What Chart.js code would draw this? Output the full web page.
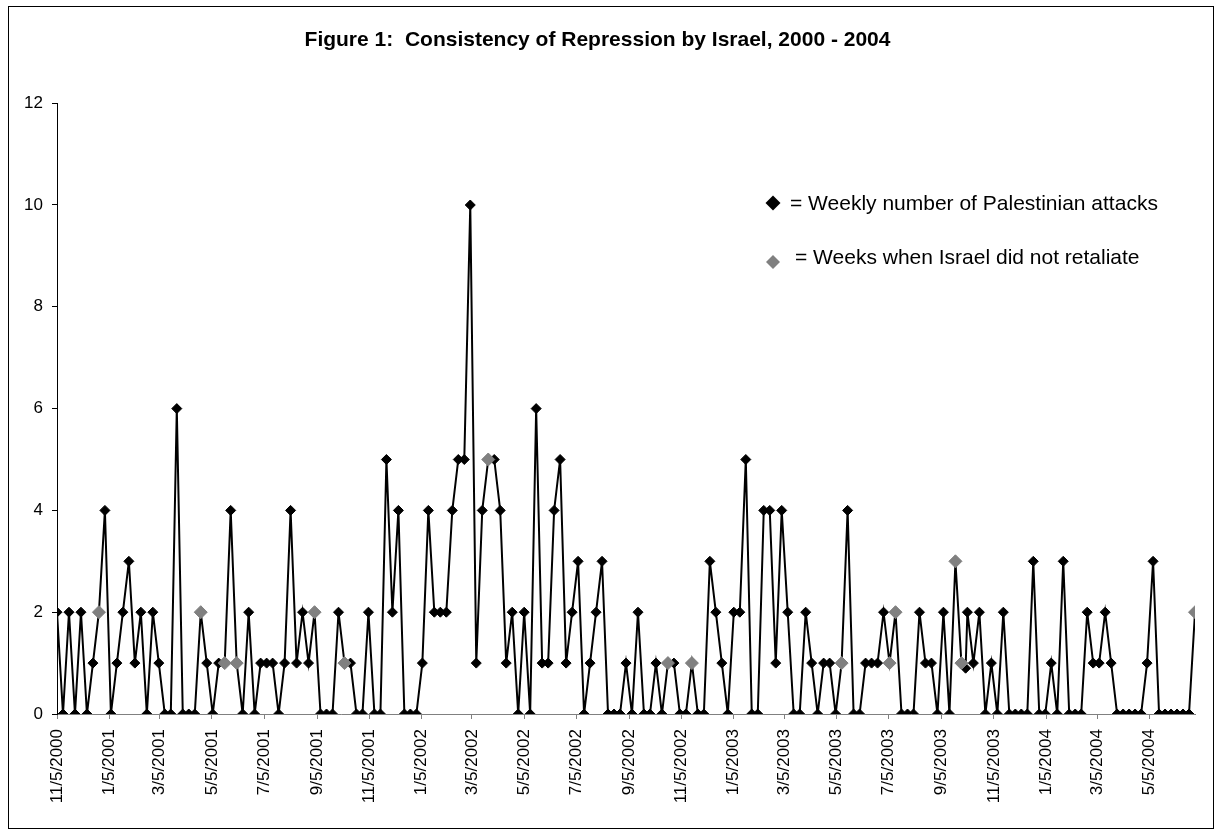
<!DOCTYPE html>
<html>
<head>
<meta charset="utf-8">
<title>Figure 1</title>
<script src="https://cdn.jsdelivr.net/npm/chart.js@4.4.1/dist/chart.umd.min.js"></script>
<style>
    body { margin: 0; background: #fff; }
    #wrap { width: 1220px; height: 834px; }
</style>
</head>
<body>
<div id="wrap"><canvas id="chart" width="1220" height="834"></canvas></div>
<script>
// weekly counts, first week = 11/5/2000
var startDate = '11/5/2000';
var attacks = [2,0,2,0,2,0,1,2,4,0, 1,2,3,1,2,0,2,1,0,0, 6,0,0,0,2,1,0,1,1,4,
    1,0,2,0,1,1,1,0,1,4, 1,2,1,2,0,0,0,2,1,1, 0,0,2,0,0,5,2,4,0,0,
    0,1,4,2,2,2,4,5,5,10, 1,4,5,5,4,1,2,0,2,0, 6,1,1,4,5,1,2,3,0,1,
    2,3,0,0,0,1,0,2,0,0, 1,0,1,1,0,0,1,0,0,3, 2,1,0,2,2,5,0,0,4,4,
    1,4,2,0,0,2,1,0,1,1, 0,1,4,0,0,1,1,1,2,1, 2,0,0,0,2,1,1,0,2,0,
    3,1,2,1,2,0,1,0,2,0, 0,0,0,3,0,0,1,0,3,0, 0,0,2,1,1,2,1,0,0,0,
    0,0,1,3,0,0,0,0,0,0, 2];
// weeks (index into attacks) where Israel did not retaliate
var noRetaliationWeeks = [7, 24, 28, 30, 43, 48, 72, 102, 106, 131, 139, 140, 150, 151, 190];
// one stray point that sits between two weeks in the original
var oddWeeks = [151.7];
var oddValues = [0.9];

var tickLabels = ['11/5/2000','1/5/2001','3/5/2001','5/5/2001','7/5/2001','9/5/2001','11/5/2001',
    '1/5/2002','3/5/2002','5/5/2002','7/5/2002','9/5/2002','11/5/2002','1/5/2003','3/5/2003',
    '5/5/2003','7/5/2003','9/5/2003','11/5/2003','1/5/2004','3/5/2004','5/5/2004'];

var legendLabels = ['= Weekly number of Palestinian attacks', '= Weeks when Israel did not retaliate'];

function toDay(str) {
    var p = str.split('/');
    return Date.UTC(+p[2], +p[0] - 1, +p[1]) / 864e5;
}
var day0 = toDay(startDate);
var tickDays = tickLabels.map(function (s) { return toDay(s) - day0; });

var attackPoints = [];
for (var i = 0; i < attacks.length; i++) {
    attackPoints.push({x: i * 7, y: attacks[i]});
}
for (var k = 0; k < oddWeeks.length; k++) {
    attackPoints.push({x: oddWeeks[k] * 7, y: oddValues[k]});
}
attackPoints.sort(function (a, b) { return a.x - b.x; });

var grayPoints = noRetaliationWeeks.map(function (w) {
    return {x: w * 7, y: attacks[w]};
});

var GRAY = '#808080';
var FONT = "'Liberation Sans', Arial, sans-serif";
Chart.defaults.font.family = FONT;
Chart.defaults.color = '#000';

function diamond(ctx, x, y, r, color) {
    ctx.beginPath();
    ctx.moveTo(x, y - r);
    ctx.lineTo(x + r, y);
    ctx.lineTo(x, y + r);
    ctx.lineTo(x - r, y);
    ctx.closePath();
    ctx.fillStyle = color;
    ctx.fill();
}

var framePlugin = {
    id: 'frame',
    beforeDraw: function (chart) {
        var ctx = chart.ctx;
        ctx.save();
        ctx.fillStyle = '#fff';
        ctx.fillRect(0, 0, chart.width, chart.height);
        ctx.restore();
    },
    afterDraw: function (chart) {
        var ctx = chart.ctx;
        ctx.save();
        ctx.strokeStyle = '#000';
        ctx.lineWidth = 1;
        ctx.strokeRect(8.5, 6.5, 1205, 822);

        // hand drawn legend like the original text box
        ctx.font = '21px ' + FONT;
        ctx.textBaseline = 'middle';
        ctx.fillStyle = '#000';
        diamond(ctx, 773, 203, 7.5, '#000');
        ctx.fillText(legendLabels[0], 790, 204);
        diamond(ctx, 773, 262, 7, GRAY);
        ctx.fillStyle = '#000';
        ctx.fillText(legendLabels[1], 795, 258);
        ctx.restore();
    }
};

new Chart(document.getElementById('chart'), {
    type: 'line',
    data: {
        datasets: [
            {
                label: 'Weeks when Israel did not retaliate',
                data: grayPoints,
                showLine: false,
                pointStyle: 'rectRot',
                pointRadius: 6.5,
                pointBackgroundColor: GRAY,
                pointBorderColor: GRAY,
                pointBorderWidth: 1,
                order: 0
            },
            {
                label: 'Weekly number of Palestinian attacks',
                data: attackPoints,
                borderColor: '#000',
                borderWidth: 2,
                tension: 0,
                pointStyle: 'rectRot',
                pointRadius: 5,
                pointBackgroundColor: '#000',
                pointBorderColor: '#000',
                pointBorderWidth: 1,
                order: 1
            }
        ]
    },
    options: {
        responsive: false,
        animation: false,
        events: [],
        layout: { padding: { left: 0, right: 25, top: 0, bottom: 0 } },
        plugins: {
            legend: { display: false },
            tooltip: { enabled: false },
            title: {
                display: true,
                text: 'Figure 1:  Consistency of Repression by Israel, 2000 - 2004',
                color: '#000',
                font: { size: 21, weight: 'bold', lineHeight: 1.2 },
                padding: { top: 28, bottom: 50 }
            }
        },
        scales: {
            x: {
                type: 'linear',
                min: 0,
                max: (attacks.length - 1) * 7,
                afterBuildTicks: function (scale) {
                    scale.ticks = tickDays.map(function (d) { return {value: d}; });
                },
                afterFit: function (scale) { scale.height = 120; },
                border: { display: true, color: GRAY, width: 1 },
                grid: { drawOnChartArea: false, drawTicks: true, tickLength: 5, color: GRAY },
                ticks: {
                    autoSkip: false,
                    minRotation: 90,
                    maxRotation: 90,
                    padding: 10,
                    font: { size: 17 },
                    callback: function (value, index) { return tickLabels[index]; }
                }
            },
            y: {
                min: 0,
                max: 12,
                afterFit: function (scale) { scale.width = 57; },
                border: { display: true, color: '#000', width: 1 },
                grid: { drawOnChartArea: false, drawTicks: true, tickLength: 5, color: '#000' },
                ticks: { stepSize: 2, padding: 9, font: { size: 17 } }
            }
        }
    },
    plugins: [framePlugin]
});
</script>
</body>
</html>
